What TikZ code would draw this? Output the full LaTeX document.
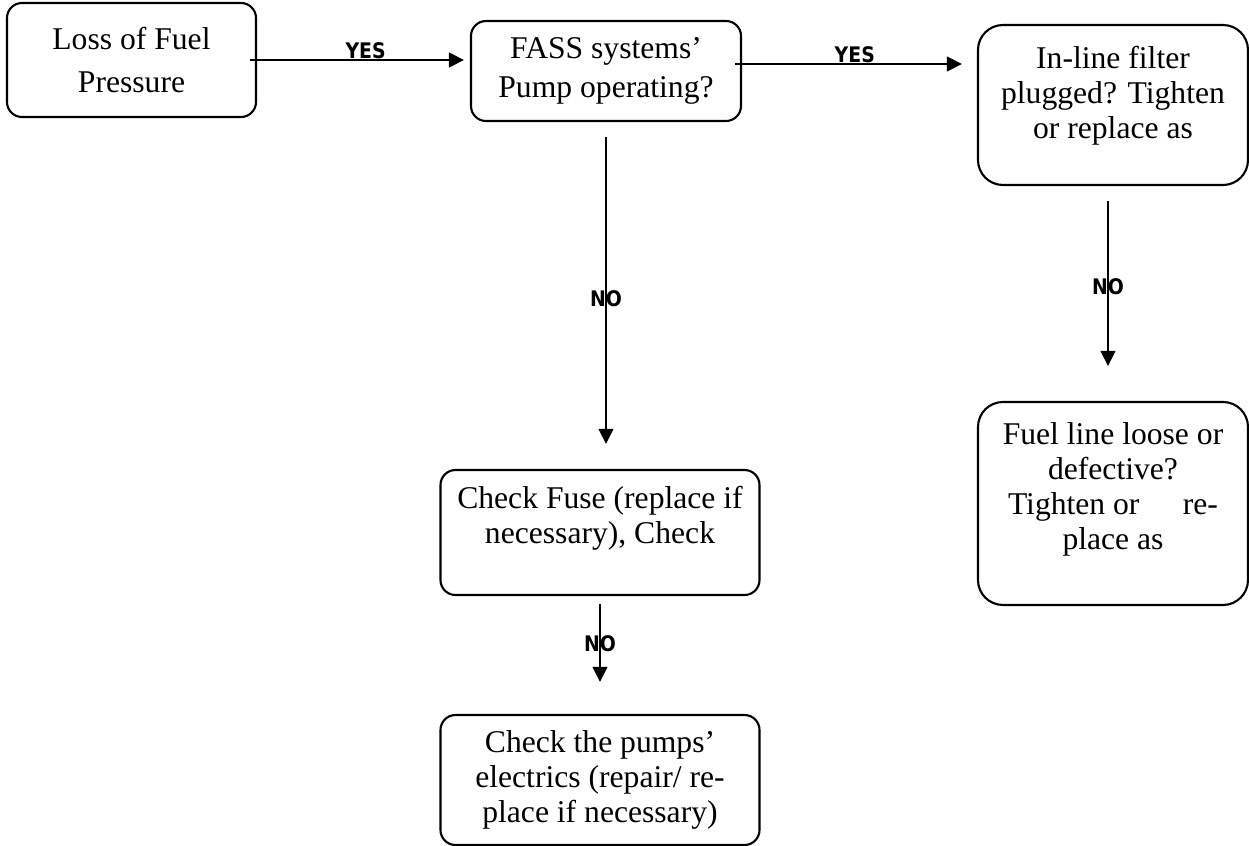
\documentclass[tikz,border=0pt]{standalone}
\usepackage{fontspec}
\setmainfont{Liberation Serif}
\newfontfamily\yesnofont{DejaVu Sans}
\usetikzlibrary{arrows.meta}

\begin{document}
\begin{tikzpicture}[
  box/.style={draw,line width=0.6pt,rounded corners=0.15cm,inner sep=0pt,align=center,font=\fontsize{9}{10}\selectfont},
  arr/.style={line width=0.6pt,-{Triangle[length=4.3pt,width=4.2pt]}},
  lab/.style={font=\yesnofont\bfseries\fontsize{6.1}{6.5}\selectfont,inner sep=0pt,xscale=.88,transform shape}
]
\useasboundingbox (0,0) rectangle (12.49,-8.46);
% boxes
\node[box,minimum width=2.49cm,minimum height=1.14cm] (loss) at (1.315,-.60) {Loss of Fuel\\[2pt]Pressure};
\node[box,minimum width=2.70cm,minimum height=1.00cm] (fass) at (6.06,-.71) {FASS systems'\\[1pt]Pump operating?};
\node[box,rounded corners=.25cm,minimum width=2.70cm,minimum height=1.60cm] (filter) at (11.13,-1.05) {In-line filter\\plugged? Tighten\\or replace as\\[-3pt]~};
\node[box,rounded corners=.25cm,minimum width=2.70cm,minimum height=2.03cm] (fuelline) at (11.13,-5.035) {Fuel line loose or\\defective?\\\makebox[2.1cm]{Tighten or\hfill re-}\\place as\\~};
\node[box,minimum width=3.19cm,minimum height=1.25cm] (fuse) at (6.00,-5.325) {Check Fuse (replace if\\necessary), Check\\~};
\node[box,minimum width=3.19cm,minimum height=1.30cm] (pumps) at (6.00,-7.80) {Check the pumps'\\electrics (repair/ re-\\place if necessary)};
% yes
\draw[arr,shorten <=-.07cm,shorten >=.06cm] (loss.east) -- (loss.east -| fass.west) node[lab,above,pos=.51] {YES};
\draw[arr,shorten <=-.07cm,shorten >=.15cm] ([yshift=.07cm]fass.east) -- ([yshift=.07cm]fass.east -| filter.west) node[lab,above,pos=.48] {YES};
% no
\draw[arr,shorten <=.15cm,shorten >=.25cm] (fass.south) -- (fass.south |- fuse.north) node[lab,pos=.51] {NO};
\draw[arr,shorten <=.15cm,shorten >=.35cm] ([xshift=-.05cm]filter.south) -- ([xshift=-.05cm]filter.south |- fuelline.north) node[lab,pos=.47] {NO};
\draw[arr,shorten <=.08cm,shorten >=.32cm] (fuse.south) -- (pumps.north) node[lab,pos=.4] {NO};
\end{tikzpicture}
\end{document}
